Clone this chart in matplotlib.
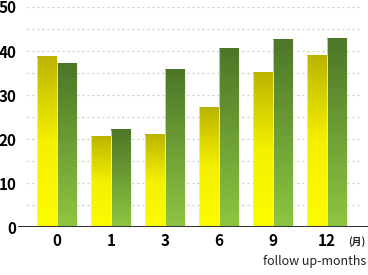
import numpy as np
import matplotlib
matplotlib.use("Agg")
import matplotlib.pyplot as plt
from matplotlib.colors import LinearSegmentedColormap

plt.rcParams["font.family"] = ["Noto Sans CJK JP", "DejaVu Sans"]

months = ["0", "1", "3", "6", "9", "12"]
series_a = [38.7, 20.6, 21.0, 27.2, 35.2, 39.0]
series_b = [37.1, 22.1, 35.9, 40.6, 42.7, 42.9]

yellow = LinearSegmentedColormap.from_list("y", ["#fcfc00", "#f4f000", "#bcb400"])
green = LinearSegmentedColormap.from_list("g", ["#8ec642", "#6e9e35", "#4c7628"])

fig = plt.figure(figsize=(3.68, 2.75), dpi=100)
ax = fig.add_axes([18 / 368, 48 / 275, 350 / 368, 220 / 275])

x = np.arange(len(months))
w = 20 / 54
grad = np.linspace(0, 1, 256).reshape(-1, 1)

for xi, a, b in zip(x, series_a, series_b):
    for left, h, cmap in ((xi - w, a, yellow), (xi, b, green)):
        ax.imshow(grad, cmap=cmap, origin="lower", aspect="auto",
                  extent=(left, left + w, 0, h), zorder=3)
        # pale side edges like the original bars
        ax.vlines([left, left + w], 0, h, colors="#eef3cc", lw=0.7, alpha=0.7, zorder=4)

for yv in range(5, 55, 5):
    ax.hlines(yv, -0.556, 5.61, colors="#c8c8c8", linestyles=(0, (1.5, 2.5)), lw=0.9, zorder=1)

ax.axhline(0, color="#333333", lw=2.2, zorder=5)

ax.set_xlim(-39 / 54, 311 / 54)
ax.set_ylim(0, 50)
for s in ax.spines.values():
    s.set_visible(False)

ax.set_xticks(x)
ax.set_xticklabels(months, fontsize=11, fontweight="bold")
ax.set_yticks(range(0, 60, 10))
ax.set_yticklabels([str(v) for v in range(0, 60, 10)], fontsize=11, fontweight="bold")
ax.tick_params(length=0, pad=4)
ax.tick_params(axis="y", pad=1)

fig.text(357 / 368, 1 - 242 / 275, "(月)", fontsize=7, fontweight="bold",
         ha="center", va="center", color="#222222")
fig.text(366 / 368, 1 - 262 / 275, "follow up-months", fontsize=9,
         ha="right", va="center", color="#222222")

fig.savefig("out.png", dpi=100)
plt.close(fig)
